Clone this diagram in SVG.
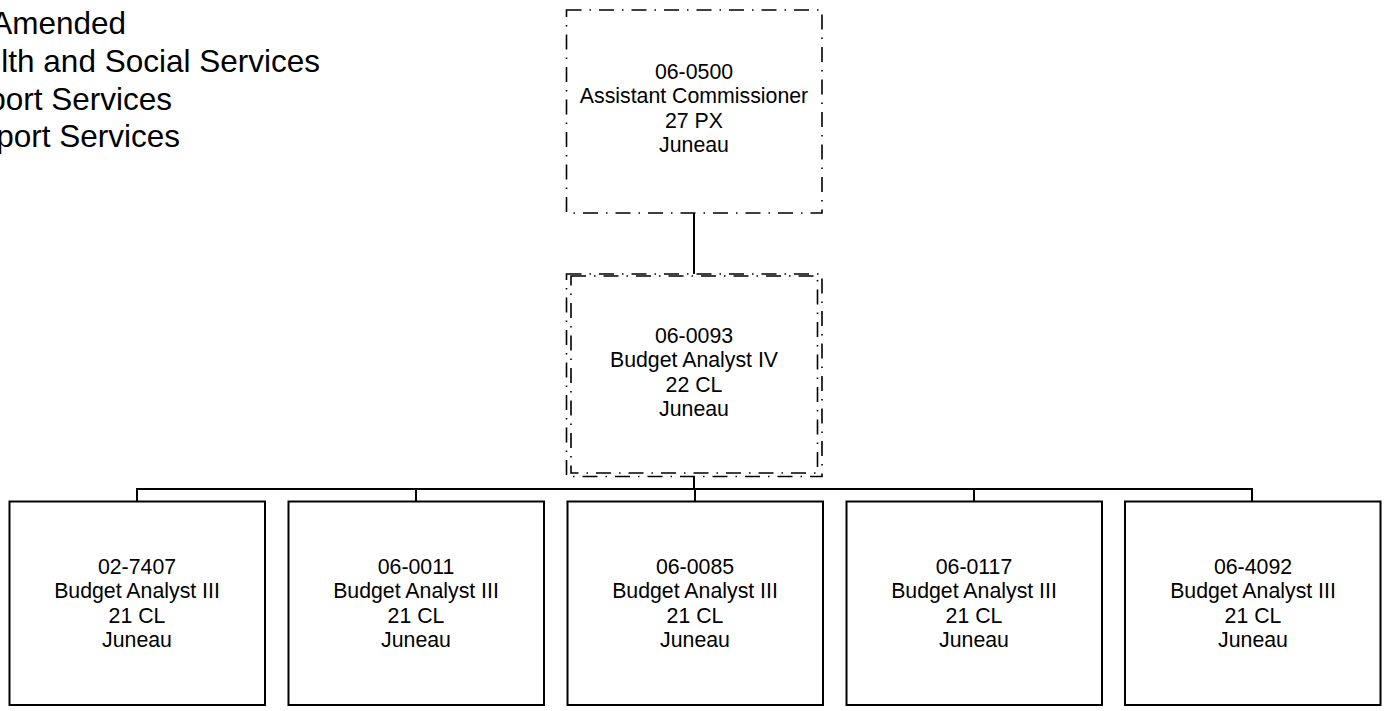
<svg xmlns="http://www.w3.org/2000/svg" width="1384" height="711" viewBox="0 0 1384 711">
<style>
.hdr{font-family:"Liberation Sans",Arial,sans-serif;font-size:31.5px;fill:#000;text-anchor:end}
.t{font-family:"Liberation Sans",Arial,sans-serif;font-size:21.3px;fill:#000;text-anchor:middle}
.box{fill:#fff;stroke:#000;stroke-width:2}
.dd{fill:none;stroke:#000;stroke-width:1.6;stroke-dasharray:15 8 1.5 8}
.conn{fill:none;stroke:#000;stroke-width:2}
</style>
<rect width="1384" height="711" fill="#fff"/>
<g id="header">
<text class="hdr" x="126" y="34">Amended</text>
<text class="hdr" x="320" y="72">lth and Social Services</text>
<text class="hdr" x="172" y="110">port Services</text>
<text class="hdr" x="180" y="147">port Services</text>
</g>
<g id="connectors">
<line class="conn" x1="694" y1="213" x2="694" y2="274"/>
<line class="conn" x1="694" y1="476" x2="694" y2="489"/>
<line class="conn" x1="136" y1="489" x2="1253" y2="489"/>
<line class="conn" x1="137" y1="489" x2="137" y2="501"/>
<line class="conn" x1="416" y1="489" x2="416" y2="501"/>
<line class="conn" x1="695" y1="489" x2="695" y2="501"/>
<line class="conn" x1="974" y1="489" x2="974" y2="501"/>
<line class="conn" x1="1252" y1="489" x2="1252" y2="501"/>
</g>
<g id="n0500">
<rect class="dd" x="566.5" y="10" width="255.5" height="203"/>
<text class="t" x="694" y="79">06-0500</text>
<text class="t" x="694" y="103.3">Assistant Commissioner</text>
<text class="t" x="694" y="127.6">27 PX</text>
<text class="t" x="694" y="151.9">Juneau</text>
</g>
<g id="n0093">
<rect class="dd" x="566.5" y="274" width="255.5" height="202.5"/>
<rect class="dd" x="571" y="276" width="246.5" height="197"/>
<text class="t" x="694" y="343">06-0093</text>
<text class="t" x="694" y="367.3">Budget Analyst IV</text>
<text class="t" x="694" y="391.6">22 CL</text>
<text class="t" x="694" y="415.9">Juneau</text>
</g>
<g id="n7407">
<rect class="box" x="9.5" y="501.5" width="255.5" height="203.5"/>
<text class="t" x="137" y="574">02-7407</text>
<text class="t" x="137" y="598.3">Budget Analyst III</text>
<text class="t" x="137" y="622.6">21 CL</text>
<text class="t" x="137" y="646.9">Juneau</text>
</g>
<g id="n0011">
<rect class="box" x="288.5" y="501.5" width="255.5" height="203.5"/>
<text class="t" x="416" y="574">06-0011</text>
<text class="t" x="416" y="598.3">Budget Analyst III</text>
<text class="t" x="416" y="622.6">21 CL</text>
<text class="t" x="416" y="646.9">Juneau</text>
</g>
<g id="n0085">
<rect class="box" x="567.5" y="501.5" width="255.5" height="203.5"/>
<text class="t" x="695" y="574">06-0085</text>
<text class="t" x="695" y="598.3">Budget Analyst III</text>
<text class="t" x="695" y="622.6">21 CL</text>
<text class="t" x="695" y="646.9">Juneau</text>
</g>
<g id="n0117">
<rect class="box" x="846.5" y="501.5" width="255.5" height="203.5"/>
<text class="t" x="974" y="574">06-0117</text>
<text class="t" x="974" y="598.3">Budget Analyst III</text>
<text class="t" x="974" y="622.6">21 CL</text>
<text class="t" x="974" y="646.9">Juneau</text>
</g>
<g id="n4092">
<rect class="box" x="1125" y="501.5" width="255.5" height="203.5"/>
<text class="t" x="1253" y="574">06-4092</text>
<text class="t" x="1253" y="598.3">Budget Analyst III</text>
<text class="t" x="1253" y="622.6">21 CL</text>
<text class="t" x="1253" y="646.9">Juneau</text>
</g>
</svg>
